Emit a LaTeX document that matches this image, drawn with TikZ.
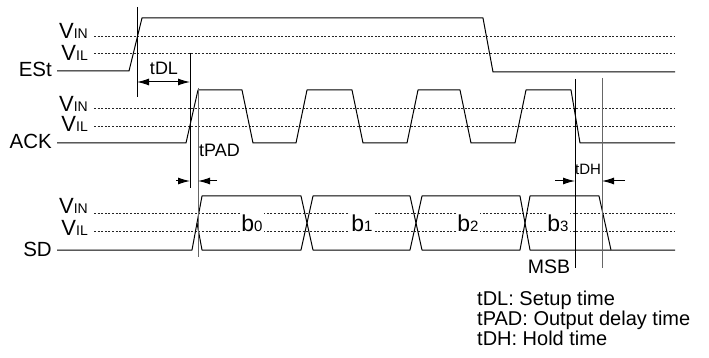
\documentclass[tikz,border=0pt]{standalone}
\usepackage{fontspec}
\setmainfont{Liberation Sans}
\usetikzlibrary{arrows.meta, positioning}

\newcommand{\vlev}[1]{{\fontsize{22}{24}\selectfont V}{\fontsize{14}{16}\selectfont #1}}
\newcommand{\bit}[1]{{\fontsize{23}{25}\selectfont b}{\fontsize{15}{16}\selectfont #1}}

\begin{document}
\begin{tikzpicture}[x=1pt, y=-1pt,
    >={Latex[length=12pt,width=7pt]},
    sig/.style={line width=1pt, line join=round},
    lvl/.style={line width=0.9pt, dash pattern=on 2pt off 1.6pt, black!85},
    tline/.style={line width=1pt},
    thinline/.style={line width=0.6pt, black!60},
    lab/.style={font=\fontsize{20.5}{22}\selectfont, inner sep=0pt},
    legend/.style={font=\fontsize{20}{22}\selectfont, inner sep=0pt, anchor=base west},
    tm/.style={font=\fontsize{18}{20}\selectfont, inner sep=0pt},
    bitlab/.style={fill=white, inner sep=1pt}]
    \useasboundingbox (0,0) rectangle (709,358);

    % signal names
    \node (est) [lab, anchor=base east] at (52,77) {ESt};
    \node (ack) [lab, anchor=base east] at (52,149) {ACK};
    \node (sd)  [lab, anchor=base east] at (52,256) {SD};

    % threshold levels
    \node (estin) [inner sep=0pt, anchor=base east] at (88,39) {\vlev{IN}};
    \node (estil) [inner sep=0pt, anchor=base east] at (88,61) {\vlev{IL}};
    \node (ackin) [inner sep=0pt, anchor=base east] at (88,112) {\vlev{IN}};
    \node (ackil) [inner sep=0pt, anchor=base east] at (88,132) {\vlev{IL}};
    \node (sdin)  [inner sep=0pt, anchor=base east] at (88,213) {\vlev{IN}};
    \node (sdil)  [inner sep=0pt, anchor=base east] at (88,235) {\vlev{IL}};
    \foreach \y in {36,53,108,126,213,231}
        \draw [lvl] (94,\y) -- (675,\y);

    % ESt
    \draw [sig] (57,71) -- (129,71) -- (142,18) -- (483,18) -- (493,72) -- (675,72);

    % ACK
    \draw [sig] (57,143) -- (186,143) -- (198,90) -- (242,90) -- (253,143)
        -- (296,143) -- (307,90) -- (352,90) -- (363,143)
        -- (407,143) -- (418,90) -- (460,90) -- (471,143)
        -- (515,143) -- (526,90) -- (571,90) -- (580,143) -- (675,143);

    % SD
    \draw [sig] (57,250) -- (192,250) -- (202,196) -- (301,196) -- (313,250)
        -- (410,250) -- (422,196) -- (520,196) -- (530,250) -- (675,250);
    \draw [sig] (197,223) -- (202,250) -- (301,250) -- (313,196)
        -- (410,196) -- (422,250) -- (520,250) -- (530,196) -- (599,196) -- (611,250);
    \node (b0) [bitlab, anchor=base] at (252,231) {\bit{0}};
    \node (b1) [bitlab, anchor=base] at (362,231) {\bit{1}};
    \node (b2) [bitlab, anchor=base] at (468,231) {\bit{2}};
    \node (b3) [bitlab, anchor=base] at (558,231) {\bit{3}};

    % timing marks
    \draw [tline] (137,7) -- (137,97);
    \draw [tline] (190,53) -- (190,188);
    \draw [thinline] (198,88) -- (198,257);
    \draw [tline] (575,79) -- (575,268);
    \draw [thinline] (602,78) -- (602,268);

    \coordinate (dlL) at (137,82);
    \coordinate (dlR) at (190,82);
    \coordinate (padL) at (190,181);
    \coordinate (padR) at (198,181);
    \coordinate (padLo) at (176,181);
    \coordinate (padRo) at (217,181);
    \coordinate (dhL) at (575,181);
    \coordinate (dhR) at (602,181);
    \coordinate (dhLo) at (555,181);
    \coordinate (dhRo) at (625,181);

    \draw [<->, line width=1pt] (dlL) -- (dlR);
    \draw [->, line width=1pt] (padLo) -- (padL);
    \draw [->, line width=1pt] (padRo) -- (padR);
    \draw [->, line width=1pt] (dhLo) -- (dhL);
    \draw [->, line width=1pt] (dhRo) -- (dhR);

    \node (tdl)  [tm, anchor=base] at (164,75) {tDL};
    \node (tpad) [tm, anchor=base west] at (199,157) {tPAD};
    \node (tdh)  [inner sep=0pt, font=\fontsize{15}{16}\selectfont, anchor=base] at (588,175) {tDH};
    \node (msb)  [inner sep=0pt, font=\fontsize{19.5}{20}\selectfont, anchor=base] at (549,273) {MSB};

    % legend
    \node (leg1) [legend] at (477,305) {tDL: Setup time};
    \node (leg2) [legend] at (477,325) {tPAD: Output delay time};
    \node (leg3) [legend] at (477,345) {tDH: Hold time};
\end{tikzpicture}
\end{document}
